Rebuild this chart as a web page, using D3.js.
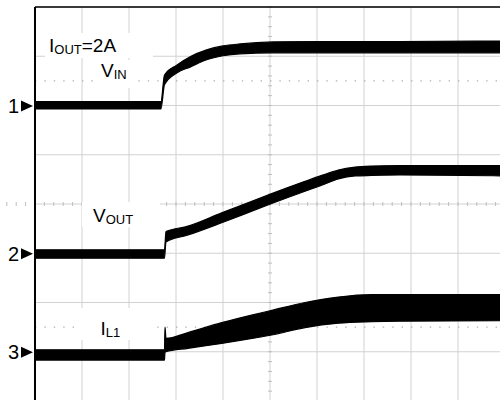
<!DOCTYPE html>
<html>
<head>
<meta charset="utf-8">
<script src="https://cdn.jsdelivr.net/npm/d3@7"></script>
<style>
  body { margin: 0; background: #fff; }
  svg { display: block; font-family: "Liberation Sans", Arial, sans-serif; }
</style>
</head>
<body>
<svg width="500" height="400"></svg>
<script>
// time in divisions (scope centre = 0), levels in divisions above each channel's ground marker
var vinT   = [-5, -2.32, -2.245, -1.985, -1.70, -1.347, -1.0, -0.638, 0.064, 1.064, 2.766, 5];
var vinHi  = [0.08, 0.08, 0.62, 0.82, 0.99, 1.13, 1.21, 1.25, 1.29, 1.30, 1.30, 1.31];
var vinLo  = [-0.07, -0.07, 0.42, 0.66, 0.78, 0.93, 1.01, 1.05, 1.07, 1.07, 1.07, 1.07];

var voutT  = [-5, -2.245, -2.213, -1.745, -1.028, -0.319, 0.036, 0.745, 1.10, 1.453, 1.81, 2.16, 2.766, 5];
var voutHi = [0.07, 0.07, 0.44, 0.55, 0.82, 1.08, 1.21, 1.46, 1.58, 1.69, 1.75, 1.77, 1.78, 1.78];
var voutLo = [-0.10, -0.10, 0.23, 0.37, 0.62, 0.88, 1.01, 1.26, 1.38, 1.51, 1.57, 1.58, 1.59, 1.57];

var il1T   = [-5, -2.245, -2.234, -2.213, -1.745, -1.028, -0.319, 0.036, 0.745, 1.453, 2.16, 2.766, 5];
var il1Hi  = [0.04, 0.04, 0.50, 0.27, 0.39, 0.59, 0.76, 0.84, 1.00, 1.11, 1.16, 1.16, 1.16];
var il1Lo  = [-0.17, -0.17, -0.01, 0.00, 0.07, 0.17, 0.28, 0.34, 0.49, 0.58, 0.61, 0.62, 0.63];

var channelNames  = ["1", "2", "3"];
var channelGround = [2, -1, -3];       // ground marker position, divisions from centre
var refLevels     = [2.5, -2.5];       // dotted reference lines

var svgWidth = 500, svgHeight = 400;
var plotLeft = 35, plotTop = 7, divW = 47, divH = 49.25;

var svg = d3.select("svg");

var xScale = d3.scaleLinear().domain([-5, 5]).range([plotLeft, plotLeft + 10 * divW]);
var yScale = d3.scaleLinear().domain([4, -4]).range([plotTop, plotTop + 8 * divH]);

// grid
var grid = svg.append("g");
grid.selectAll(".vg").data(d3.range(-4, 6)).enter().append("line")
    .attr("x1", function(d) { return xScale(d); })
    .attr("x2", function(d) { return xScale(d); })
    .attr("y1", plotTop).attr("y2", svgHeight)
    .attr("stroke", "#d2d2d2").attr("stroke-width", 1);
grid.selectAll(".hg").data(d3.range(-4, 5)).enter().append("line")
    .attr("x1", plotLeft).attr("x2", svgWidth)
    .attr("y1", function(d) { return yScale(d); })
    .attr("y2", function(d) { return yScale(d); })
    .attr("stroke", "#d2d2d2").attr("stroke-width", 1);

// minor ticks on the centre lines
grid.selectAll(".tx").data(d3.range(-50, 51)).enter().append("line")
    .attr("x1", function(d) { return xScale(d / 5); })
    .attr("x2", function(d) { return xScale(d / 5); })
    .attr("y1", yScale(0) - 2).attr("y2", yScale(0) + 2)
    .attr("stroke", "#bdbdbd");
grid.selectAll(".ty").data(d3.range(-40, 41)).enter().append("line")
    .attr("x1", xScale(0) - 2).attr("x2", xScale(0) + 2)
    .attr("y1", function(d) { return yScale(d / 5); })
    .attr("y2", function(d) { return yScale(d / 5); })
    .attr("stroke", "#bdbdbd");

// dotted reference lines
grid.selectAll(".ref").data(refLevels).enter().append("line")
    .attr("x1", plotLeft).attr("x2", svgWidth)
    .attr("y1", function(d) { return yScale(d); })
    .attr("y2", function(d) { return yScale(d); })
    .attr("stroke", "#b0b0b0").attr("stroke-width", 1.3)
    .attr("stroke-dasharray", "1.4 8");

// white boxes behind labels
var boxes = [[45, 33, 108, 25], [95, 60, 40, 28], [82, 202, 78, 25], [80, 308, 70, 32]];
svg.selectAll(".box").data(boxes).enter().append("rect")
    .attr("x", function(d) { return d[0]; }).attr("y", function(d) { return d[1]; })
    .attr("width", function(d) { return d[2]; }).attr("height", function(d) { return d[3]; })
    .attr("fill", "#fff");

// traces
var traces = [
  { t: vinT, hi: vinHi, lo: vinLo, g: channelGround[0] },
  { t: voutT, hi: voutHi, lo: voutLo, g: channelGround[1] },
  { t: il1T, hi: il1Hi, lo: il1Lo, g: channelGround[2] }
];
traces.forEach(function(tr) {
  var pts = tr.t.map(function(t, i) { return [t, tr.hi[i], tr.lo[i]]; });
  var area = d3.area()
      .x(function(d) { return xScale(d[0]); })
      .y0(function(d) { return yScale(tr.g + d[2]); })
      .y1(function(d) { return yScale(tr.g + d[1]); })
      .curve(d3.curveMonotoneX);
  svg.append("path").datum(pts)
      .attr("d", area)
      .attr("fill", "#000").attr("stroke", "#000").attr("stroke-width", 1.2);
});

// frame
svg.append("line").attr("x1", plotLeft).attr("x2", svgWidth).attr("y1", plotTop).attr("y2", plotTop)
    .attr("stroke", "#000").attr("stroke-width", 1.5);
svg.append("line").attr("x1", plotLeft).attr("x2", plotLeft).attr("y1", plotTop).attr("y2", svgHeight)
    .attr("stroke", "#000").attr("stroke-width", 2);

// channel markers
var markers = svg.selectAll(".mk").data(channelNames).enter().append("g")
    .attr("transform", function(d, i) { return "translate(0," + (yScale(channelGround[i]) + 0.5) + ")"; });
markers.append("path").attr("d", "M21,-5.5L33,0L21,5.5Z").attr("fill", "#000");
markers.append("text").text(function(d) { return d; })
    .attr("x", 19).attr("y", 7).attr("text-anchor", "end")
    .attr("font-size", 20).attr("fill", "#000");

// labels
function label(x, y, main, sub, rest) {
  var t = svg.append("text").attr("x", x).attr("y", y).attr("font-size", 19).attr("fill", "#000");
  t.append("tspan").text(main);
  t.append("tspan").text(sub).attr("font-size", 13).attr("dy", 2);
  if (rest) t.append("tspan").text(rest).attr("dy", -2);
}
label(49, 52, "I", "OUT", "=2A");
label(101, 77, "V", "IN");
label(93, 222, "V", "OUT");
label(100.5, 335, "I", "L1");
</script>
</body>
</html>
